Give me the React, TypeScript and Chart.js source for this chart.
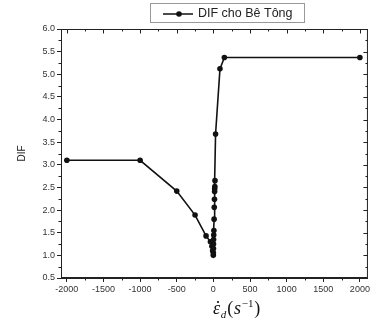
import React, { useEffect, useRef } from "react";
import { Chart, registerables } from "chart.js";

Chart.register(...registerables);

const seriesLabel = "DIF cho Bê Tông";
const strainRates = [-2000, -1000, -500, -250, -100, -40, -20, -10, -1, 0, 1, 2, 3, 5, 7, 10, 12, 15, 17, 18, 20, 22, 30, 90, 150, 2000];
const difValues = [3.1, 3.1, 2.42, 1.89, 1.43, 1.3, 1.2, 1.1, 1.0, 1.05, 1.15, 1.25, 1.35, 1.45, 1.55, 1.8, 2.06, 2.24, 2.41, 2.47, 2.52, 2.65, 3.68, 5.12, 5.37, 5.37];
const xMajorTicks = [-2000, -1500, -1000, -500, 0, 500, 1000, 1500, 2000];
const yMajorTicks = [0.5, 1.0, 1.5, 2.0, 2.5, 3.0, 3.5, 4.0, 4.5, 5.0, 5.5, 6.0];
const xMinorTicks = [-1750, -1250, -750, -250, 250, 750, 1250, 1750];
const yMinorTicks = [0.75, 1.25, 1.75, 2.25, 2.75, 3.25, 3.75, 4.25, 4.75, 5.25, 5.75];

const framePlugin = {
  id: "frame",
  afterDraw(chart: any) {
    const ctx = chart.ctx;
    const { left, right, top, bottom } = chart.chartArea;
    const xs = chart.scales.x;
    const ys = chart.scales.y;
    ctx.save();
    ctx.strokeStyle = "#222";
    ctx.lineWidth = 1;
    ctx.strokeRect(left + 0.5, top + 0.5, right - left - 1, bottom - top - 1);
    ctx.beginPath();
    for (const v of xMinorTicks) {
      const px = Math.round(xs.getPixelForValue(v)) + 0.5;
      ctx.moveTo(px, bottom); ctx.lineTo(px, bottom + 2.5);
      ctx.moveTo(px, top); ctx.lineTo(px, top + 2.5);
    }
    for (const v of xMajorTicks) {
      const px = Math.round(xs.getPixelForValue(v)) + 0.5;
      ctx.moveTo(px, top); ctx.lineTo(px, top + 4.5);
    }
    for (const v of yMinorTicks) {
      const py = Math.round(ys.getPixelForValue(v)) + 0.5;
      ctx.moveTo(left, py); ctx.lineTo(left - 2.5, py);
      ctx.moveTo(right, py); ctx.lineTo(right - 2.5, py);
    }
    for (const v of yMajorTicks) {
      const py = Math.round(ys.getPixelForValue(v)) + 0.5;
      ctx.moveTo(right, py); ctx.lineTo(right - 4.5, py);
    }
    ctx.stroke();

    // x axis title: ε̇_d (s^-1)
    const parts: [string, string, number][] = [
      ["ε", 'italic 18px "Liberation Serif"', 0],
      ["d", 'italic 11px "Liberation Serif"', 4],
      ["(", '18px "Liberation Serif"', 0],
      ["s", 'italic 18px "Liberation Serif"', 0],
      ["\u22121", '11px "Liberation Serif"', -7],
      [")", '18px "Liberation Serif"', 0],
    ];
    let total = 0;
    const widths: number[] = [];
    for (const [t, f] of parts) {
      ctx.font = f;
      const w = ctx.measureText(t).width;
      widths.push(w);
      total += w + 0.8;
    }
    let cx = 237 - total / 2;
    const baseY = 314;
    ctx.fillStyle = "#111";
    ctx.textBaseline = "alphabetic";
    ctx.textAlign = "left";
    parts.forEach(([t, f, dy], i) => {
      ctx.font = f;
      ctx.fillText(t, cx, baseY + dy);
      if (i === 0) {
        ctx.beginPath();
        ctx.arc(cx + widths[0] / 2 + 1.5, baseY - 12, 1.1, 0, Math.PI * 2);
        ctx.fill();
      }
      cx += widths[i] + 0.8;
    });

    // legend box
    ctx.strokeStyle = "#999";
    ctx.lineWidth = 1;
    ctx.strokeRect(150.5, 3.5, 154, 19);
    ctx.strokeStyle = "#111";
    ctx.lineWidth = 1.5;
    ctx.beginPath();
    ctx.moveTo(163, 14); ctx.lineTo(193, 14);
    ctx.stroke();
    ctx.fillStyle = "#111";
    ctx.beginPath();
    ctx.arc(179, 14, 2.8, 0, Math.PI * 2);
    ctx.fill();
    ctx.font = '12.5px "Liberation Sans"';
    ctx.textBaseline = "middle";
    ctx.fillStyle = "#222";
    ctx.fillText(seriesLabel, 198, 13.5);
    ctx.restore();
  },
};

export default function App() {
  const ref = useRef<HTMLCanvasElement>(null);
  useEffect(() => {
    if (!ref.current) return;
    const chart = new Chart(ref.current, {
      type: "line",
      data: {
        datasets: [
          {
            label: seriesLabel,
            data: strainRates.map((x, i) => ({ x, y: difValues[i] })),
            borderColor: "#111",
            backgroundColor: "#111",
            borderWidth: 1.6,
            pointRadius: 2.8,
            pointBorderWidth: 0,
            pointBackgroundColor: "#111",
            tension: 0,
          },
        ],
      },
      options: {
        animation: false,
        responsive: true,
        maintainAspectRatio: false,
        layout: { padding: { top: 29, right: 1, left: 0, bottom: 0 } },
        plugins: { legend: { display: false }, tooltip: { enabled: false } },
        scales: {
          x: {
            type: "linear",
            min: -2080,
            max: 2110,
            afterBuildTicks: (s: any) => {
              s.ticks = xMajorTicks.map((v) => ({ value: v }));
            },
            afterFit: (s: any) => {
              s.height = 49;
            },
            grid: { display: true, drawOnChartArea: false, drawTicks: true, tickLength: 4, color: "#222" },
            border: { display: true, color: "#222" },
            ticks: {
              color: "#333",
              font: { family: "Liberation Sans", size: 9 },
              padding: 2,
              maxRotation: 0,
              autoSkip: false,
              callback: (v: any) => String(v),
            },
          },
          y: {
            type: "linear",
            min: 0.5,
            max: 6.0,
            afterBuildTicks: (s: any) => {
              s.ticks = yMajorTicks.map((v) => ({ value: v }));
            },
            afterFit: (s: any) => {
              s.width = 61;
            },
            grid: { display: true, drawOnChartArea: false, drawTicks: true, tickLength: 4, color: "#222" },
            border: { display: true, color: "#222" },
            title: {
              display: true,
              text: "DIF",
              color: "#222",
              font: { family: "Liberation Sans", size: 10 },
              padding: { top: 16, bottom: 0 },
            },
            ticks: {
              color: "#333",
              font: { family: "Liberation Sans", size: 9 },
              padding: 2,
              autoSkip: false,
              callback: (v: any) => Number(v).toFixed(1),
            },
          },
        },
      },
      plugins: [framePlugin],
    });
    return () => chart.destroy();
  }, []);
  return (
    <div style={{ position: "fixed", left: 0, top: 0, width: 372, height: 327, background: "#fff" }}>
      <canvas ref={ref} />
    </div>
  );
}
